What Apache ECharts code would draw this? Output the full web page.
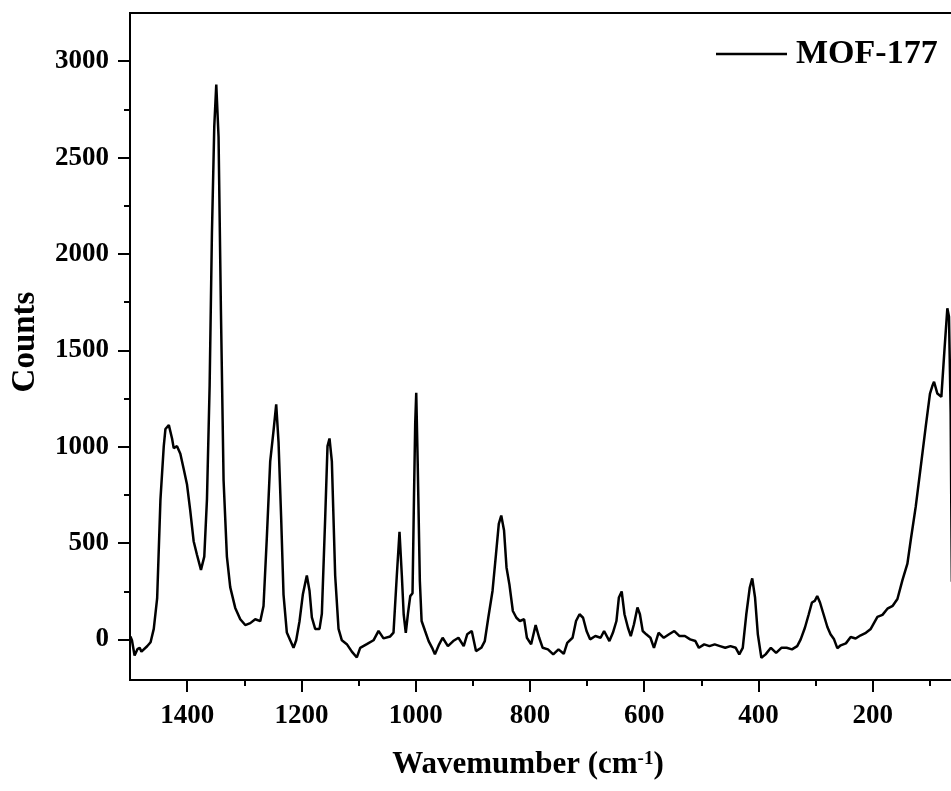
<!DOCTYPE html>
<html>
<head>
<meta charset="utf-8">
<script src="https://cdn.jsdelivr.net/npm/echarts@6/dist/echarts.min.js"></script>
<style>
html,body{margin:0;padding:0;background:#fff;}
#chart{width:951px;height:791px;}
</style>
</head>
<body>
<div id="chart"></div>
<script>
// Raman shift (cm-1), high to low
const wavenumber = [
  1499.3, 1496.6, 1492, 1487, 1483, 1480, 1470, 1464, 1458.4, 1452.5,
  1446.7, 1440.9, 1438, 1432, 1426.4, 1423.5, 1417.7, 1411.9, 1406, 1400.3,
  1394.5, 1388.6, 1382.8, 1375.8, 1370, 1365.3, 1360.6, 1356.6, 1352.5, 1349,
  1345, 1340.9, 1336.2, 1330.4, 1324.6, 1315.8, 1307, 1298.3, 1289.5, 1280.8,
  1272, 1266.3, 1260.5, 1254.6, 1248.8, 1244.1, 1240, 1235.4, 1231.3, 1225.5,
  1219.6, 1213.8, 1209.1, 1203.3, 1197.5, 1193.4, 1190.5, 1185.8, 1181.7, 1175.9,
  1168.3, 1164.2, 1158.4, 1154.3, 1150.8, 1146.7, 1140.9, 1135, 1129.2, 1120.5,
  1111.7, 1103, 1097.1, 1085.5, 1073.8, 1065, 1056.3, 1044.6, 1038.8, 1033,
  1028.3, 1024.2, 1021, 1017.3, 1013.5, 1009.5, 1005.5, 1003, 1000.8, 999,
  996.5, 992.7, 989.6, 983.5, 977.3, 971.2, 966.3, 958.9, 952.8, 943.6,
  934.3, 925.1, 915.9, 909.8, 901.8, 894.4, 885.2, 879, 872.9, 865.5,
  859.4, 854.5, 850.2, 845.3, 841, 836, 829.9, 823.7, 817.6, 810.2,
  805.3, 797.9, 790, 783.8, 777.7, 768.5, 759.2, 750, 740.8, 734.7,
  725.4, 719.3, 713.2, 707, 700.9, 694.7, 685.5, 676.3, 670.2, 660.9,
  654.8, 648.6, 644.3, 639.4, 634.5, 628.4, 623.5, 617.9, 611.8, 607.5,
  602.6, 596.4, 589.1, 582.9, 574.9, 565.7, 556.5, 547.3, 538.1, 528.8,
  519.6, 510.4, 504.3, 495, 485.8, 476.6, 467.4, 458.2, 449, 439.8,
  433.6, 427.5, 421.3, 415.2, 410.9, 406, 401.1, 394.9, 387.5, 378.3,
  369.1, 359.9, 350.7, 341.4, 332.2, 326.1, 318.7, 312, 306.4, 301.5,
  297.2, 292.3, 286.1, 279.4, 273.9, 267.7, 262, 256, 247, 238.6,
  230, 221, 212, 203.5, 191.8, 183, 174.3, 165, 156.8, 148,
  139.3, 133.5, 124.8, 116, 107.3, 99.8, 95.7, 92.7, 86.9, 79.9,
  74.1, 69.4, 66.5, 63.6, 62.5, 61.5
];
// Counts at each wavenumber
const counts = [
  16, -4, -83, -50, -43, -63, -35, -14, 55, 213,
  727, 1003, 1092, 1112, 1043, 993, 1003, 964, 885, 806,
  667, 510, 440, 361, 430, 727, 1319, 2109, 2662, 2879,
  2607, 1714, 825, 430, 272, 164, 105, 75, 85, 105,
  95, 174, 529, 924, 1082, 1220, 1023, 628, 233, 36,
  -4, -43, -4, 95, 233, 292, 332, 253, 115, 55,
  55, 134, 628, 1003, 1043, 924, 332, 55, -4, -24,
  -63, -93, -43, -24, -4, 45, 6, 16, 36, 332,
  559, 332, 131, 35, 134, 225, 240, 727, 1122, 1280,
  924, 305, 96, 44, -8, -43, -77, -25, 9, -34,
  -8, 9, -34, 27, 44, -60, -43, -8, 113, 252,
  443, 600, 643, 565, 374, 287, 148, 113, 96, 105,
  9, -25, 75, 9, -43, -51, -77, -51, -74, -17,
  9, 96, 131, 113, 44, 1, 18, 9, 44, -8,
  35, 96, 218, 249, 131, 61, 18, 79, 166, 131,
  44, 27, 9, -43, 35, 9, 27, 44, 18, 18,
  1, -8, -43, -25, -34, -25, -34, -43, -34, -43,
  -77, -43, 131, 270, 317, 218, 27, -95, -77, -43,
  -69, -43, -43, -51, -34, 1, 61, 131, 192, 200,
  226, 192, 131, 65, 27, 1, -45, -30, -20, 13,
  5, 22, 35, 55, 117, 128, 160, 175, 210, 308,
  394, 515, 688, 896, 1103, 1276, 1315, 1337, 1276, 1259,
  1518, 1718, 1674, 1172, 700, 300
];
const seriesName = 'MOF-177';
const xMajorTicks = [200, 400, 600, 800, 1000, 1200, 1400];
const xMinorTicks = [100, 300, 500, 700, 900, 1100, 1300];
const yMajorTicks = [0, 500, 1000, 1500, 2000, 2500, 3000];
const yMinorTicks = [250, 750, 1250, 1750, 2250, 2750];
const xTitle = 'Wavemumber (cm';
const xTitleSup = '-1';
const yTitle = 'Counts';

const FONT = 'Liberation Serif';
const chart = echarts.init(document.getElementById('chart'), null, {renderer: 'canvas'});
const pts = wavenumber.map((w, i) => [w, counts[i]]);

const xRange = {min: 0, max: 1500};
const yRange = {min: -210, max: 3250};
const box = {left: 130, top: 13, width: 857, height: 667};
const plain = v => String(v);
const tickStyle = {color: '#000', width: 2};

const option = {
  animation: false,
  backgroundColor: '#fff',
  grid: [
    Object.assign({show: true, borderColor: '#000', borderWidth: 2, backgroundColor: 'transparent',
      outerBoundsMode: 'none', containLabel: false}, box),
    Object.assign({show: false, outerBoundsMode: 'none', containLabel: false}, box)
  ],
  legend: {
    data: [seriesName],
    left: 716, top: 37, padding: 0,
    icon: 'rect',
    itemWidth: 71, itemHeight: 2.4,
    itemStyle: {color: '#000'},
    textStyle: {fontFamily: FONT, fontWeight: 'bold', fontSize: 34, color: '#000', padding: [0, 0, 15, 4]}
  },
  xAxis: [
    {
      gridIndex: 0, type: 'value', inverse: true, min: xRange.min, max: xRange.max, position: 'bottom',
      axisLine: {show: true, onZero: false, lineStyle: {color: '#000', width: 2}},
      axisTick: {show: true, customValues: xMajorTicks, length: 12, lineStyle: tickStyle},
      axisLabel: {show: true, customValues: xMajorTicks, formatter: plain, margin: 23,
        fontFamily: FONT, fontWeight: 'bold', fontSize: 27, color: '#000'},
      splitLine: {show: false}
    },
    {
      gridIndex: 1, type: 'value', inverse: true, min: xRange.min, max: xRange.max, position: 'bottom',
      axisLine: {show: false, onZero: false},
      axisTick: {show: true, customValues: xMinorTicks, length: 6, lineStyle: tickStyle},
      axisLabel: {show: false},
      splitLine: {show: false}
    }
  ],
  yAxis: [
    {
      gridIndex: 0, type: 'value', min: yRange.min, max: yRange.max, position: 'left',
      axisLine: {show: true, onZero: false, lineStyle: {color: '#000', width: 2}},
      axisTick: {show: true, customValues: yMajorTicks, length: 12, lineStyle: tickStyle},
      axisLabel: {show: true, customValues: yMajorTicks, formatter: plain, margin: 21,
        fontFamily: FONT, fontWeight: 'bold', fontSize: 27, color: '#000'},
      splitLine: {show: false}
    },
    {
      gridIndex: 1, type: 'value', min: yRange.min, max: yRange.max, position: 'left',
      axisLine: {show: false, onZero: false},
      axisTick: {show: true, customValues: yMinorTicks, length: 6, lineStyle: tickStyle},
      axisLabel: {show: false},
      splitLine: {show: false}
    }
  ],
  series: [{
    name: seriesName,
    type: 'line',
    xAxisIndex: 0, yAxisIndex: 0,
    data: pts,
    symbol: 'none',
    lineStyle: {color: '#000', width: 2.5},
    itemStyle: {color: '#000'}
  }],
  graphic: [
    {
      type: 'text', x: 528, y: 765,
      style: {
        text: '{a|' + xTitle + '}{s|' + xTitleSup + '}{a|)}',
        align: 'center', verticalAlign: 'middle',
        rich: {
          a: {fontFamily: FONT, fontWeight: 'bold', fontSize: 31, fill: '#000', color: '#000'},
          s: {fontFamily: FONT, fontWeight: 'bold', fontSize: 19, fill: '#000', color: '#000', verticalAlign: 'top'}
        }
      }
    },
    {
      type: 'text', x: 25, y: 342, rotation: Math.PI / 2,
      style: {
        text: yTitle, align: 'center', verticalAlign: 'middle',
        font: 'bold 33px "Liberation Serif"', fill: '#000'
      }
    }
  ]
};
chart.setOption(option);
</script>
</body>
</html>
